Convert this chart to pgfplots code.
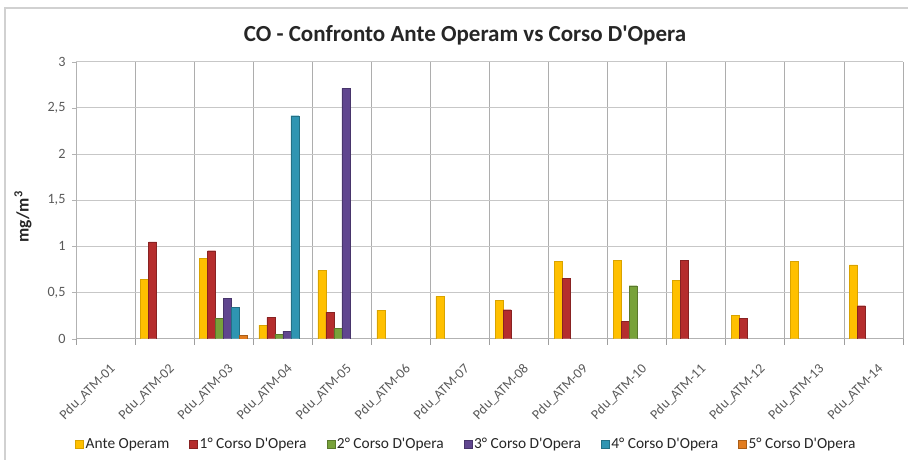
\documentclass[border=0pt]{standalone}
\usepackage{pgfplots}
\pgfplotsset{compat=1.18}
\usepackage{fontspec}
\setmainfont{Carlito}
\definecolor{cAnte}{HTML}{FFC000}
\definecolor{cUno}{HTML}{B52D2D}
\definecolor{cDue}{HTML}{78A23A}
\definecolor{cTre}{HTML}{60468F}
\definecolor{cQua}{HTML}{2F95B2}
\definecolor{cCin}{HTML}{E27C1F}
\definecolor{tickgray}{HTML}{595959}
\newcommand{\ap}{\textquotesingle}
\begin{document}
\begin{tikzpicture}
\path[use as bounding box] (0,0) rectangle (908pt,459pt);
\draw[line width=1.5pt, draw=black!18] (5pt,-2pt) -- (5pt,451pt) -- (910pt,451pt);
\node[font=\fontsize{23}{27}\selectfont\bfseries, text=black!85] at (465pt,424pt) {CO - Confronto Ante Operam vs Corso D\ap Opera};
\begin{axis}[
  at={(76pt,120.3pt)}, anchor=south west,
  scale only axis, width=827pt, height=277pt,
  ybar=0pt, bar width=8pt,
  xmin=0.5, xmax=14.5, ymin=0, ymax=3,
  xtick={1,...,14},
  xticklabels={Pdu\_ATM-01,Pdu\_ATM-02,Pdu\_ATM-03,Pdu\_ATM-04,Pdu\_ATM-05,Pdu\_ATM-06,Pdu\_ATM-07,Pdu\_ATM-08,Pdu\_ATM-09,Pdu\_ATM-10,Pdu\_ATM-11,Pdu\_ATM-12,Pdu\_ATM-13,Pdu\_ATM-14},
  minor xtick={0.5,1.5,...,14.5},
  major x tick style={draw=none},
  minor x tick style={draw=black!38, line width=0.8pt},
  minor tick length=6pt,
  xminorgrids,
  minor x grid style={draw=black!32, line width=0.8pt},
  ytick={0,0.5,...,3},
  ymajorgrids,
  major y grid style={draw=black!22, line width=0.8pt},
  y tick style={draw=black!30},
  major tick length=4pt,
  tick align=outside,
  axis line style={draw=black!30, line width=0.8pt},
  axis x line*=bottom, axis y line*=left,
  ticklabel style={font=\fontsize{14.2}{16}\selectfont, text=tickgray},
  xticklabel style={font=\fontsize{13.8}{16}\selectfont},
  /pgf/number format/assume math mode=true,
  /pgf/number format/use comma,
  yticklabel style={/pgf/number format/fixed, xshift=-3pt},
  xticklabel style={rotate=45, anchor=east, yshift=-22pt, xshift=-8pt},
  ylabel={\textbf{mg/m\textsuperscript{3}}},
  ylabel style={font=\fontsize{17.5}{20}\selectfont, text=black!85, at={(axis description cs:-0.064,0.44)}, anchor=center},
  legend style={at={(axis description cs:0.472,-0.38)}, anchor=center, draw=none,
    font=\fontsize{15.4}{17}\selectfont, text=black!85,
    /tikz/every even column/.append style={column sep=18pt}},
  legend columns=6,
  legend image code/.code={\draw[#1,line width=0.4pt] (0pt,-4pt) rectangle (8pt,4pt);},
]
\addplot[fill=cAnte, draw=cAnte!85!black, line width=0.4pt] coordinates {(2,0.643)(3,0.87)(4,0.148)(5,0.74)(6,0.31)(7,0.458)(8,0.419)(9,0.841)(10,0.852)(11,0.635)(12,0.253)(13,0.841)(14,0.80)};
\addplot[fill=cUno, draw=cUno!75!black, line width=0.4pt] coordinates {(2,1.05)(3,0.953)(4,0.231)(5,0.289)(8,0.314)(9,0.657)(10,0.191)(11,0.845)(12,0.22)(14,0.357)};
\addplot[fill=cDue, draw=cDue!75!black, line width=0.4pt] coordinates {(3,0.22)(4,0.05)(5,0.112)(10,0.574)};
\addplot[fill=cTre, draw=cTre!75!black, line width=0.4pt] coordinates {(3,0.437)(4,0.083)(5,2.71)};
\addplot[fill=cQua, draw=cQua!75!black, line width=0.4pt] coordinates {(3,0.336)(4,2.415)};
\addplot[fill=cCin, draw=cCin!75!black, line width=0.4pt] coordinates {(3,0.04)};
\legend{Ante Operam,1° Corso D\ap Opera,2° Corso D\ap Opera,3° Corso D\ap Opera,4° Corso D\ap Opera,5° Corso D\ap Opera}
\end{axis}
\end{tikzpicture}
\end{document}
